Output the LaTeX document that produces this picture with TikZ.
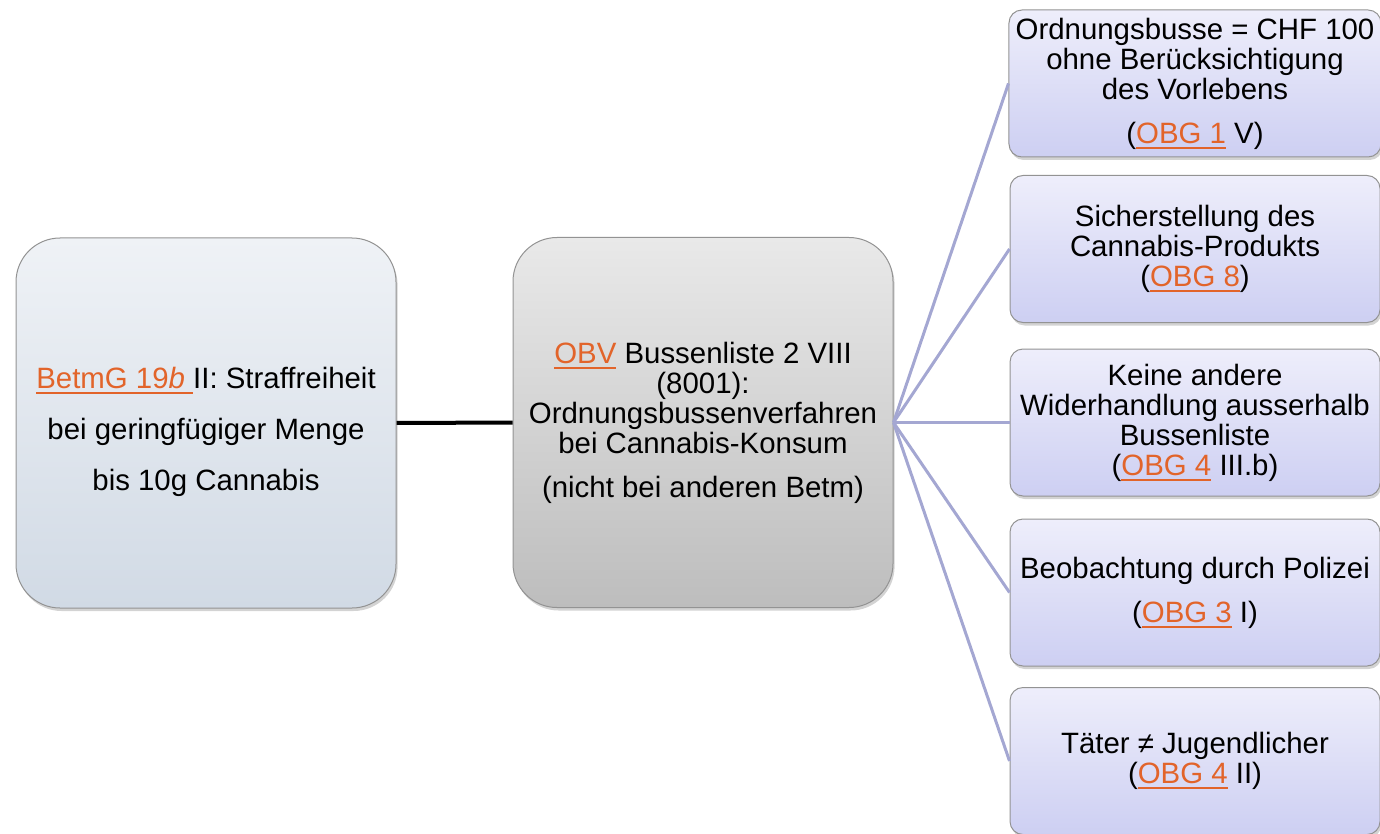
\documentclass[tikz,border=0pt]{standalone}
\usepackage{fontspec}
\setmainfont{Liberation Sans}
\usetikzlibrary{shadows}

\definecolor{linkorange}{HTML}{E2642A}
\definecolor{branchblue}{HTML}{A4A7D2}
\definecolor{betmgtop}{HTML}{EFF2F6}
\definecolor{betmgbottom}{HTML}{D1DAE5}
\definecolor{obvtop}{HTML}{E9E9E9}
\definecolor{obvbottom}{HTML}{BDBDBD}
\definecolor{condtop}{HTML}{EEEEFB}
\definecolor{condbottom}{HTML}{CDCFF2}
\newcommand{\lnk}[1]{\textcolor{linkorange}{\setbox0\hbox{#1}\rlap{\rule[-2.8pt]{\wd0}{0.9pt}}\box0}}

\begin{document}
\begin{tikzpicture}[x=0.5pt,y=-0.5pt,
    every node/.style={align=center,font=\fontsize{14.7}{15}\selectfont},
    bigbox/.style={draw=gray!85,line width=0.5pt,rounded corners=22pt,
      minimum width=190pt,minimum height=185pt,
      drop shadow={shadow xshift=0.8pt,shadow yshift=-1.5pt,opacity=0.35}},
    smallbox/.style={draw=gray!85,line width=0.5pt,rounded corners=6.5pt,
      minimum width=185pt,minimum height=73.5pt,top color=condtop,bottom color=condbottom,
      drop shadow={shadow xshift=0.8pt,shadow yshift=-1.5pt,opacity=0.35}},
    branch/.style={draw=branchblue,line width=1.5pt}]
  \useasboundingbox (0,0) rectangle (1380,834);

  \node[bigbox,top color=betmgtop,bottom color=betmgbottom,
    font=\fontsize{14.7}{25.5}\selectfont] (betmg) at (206,423)
    {\rule{0pt}{19.5pt}\lnk{BetmG 19\textit{b} }II: Straffreiheit\\ bei geringfügiger Menge\\ bis 10g Cannabis};
  \node[bigbox,top color=obvtop,bottom color=obvbottom] (obv) at (703,422.5)
    {\lnk{OBV} Bussenliste 2 VIII\\ (8001):\\ Ordnungsbussenverfahren\\ bei Cannabis-Konsum\\[7pt] (nicht bei anderen Betm)};

  \node[smallbox] (r1) at (1195,83.5)
    {Ordnungsbusse = CHF 100\\ ohne Berücksichtigung\\ des Vorlebens\\[7pt] (\lnk{OBG 1} V)};
  \node[smallbox] (r2) at (1195,249)
    {Sicherstellung des\\ Cannabis-Produkts\\ (\lnk{OBG 8})};
  \node[smallbox] (r3) at (1195,422.5)
    {Keine andere\\ Widerhandlung ausserhalb\\ Bussenliste\\ (\lnk{OBG 4} III.b)};
  \node[smallbox] (r4) at (1195,592.5)
    {Beobachtung durch Polizei\\[7pt] (\lnk{OBG 3} I)};
  \node[smallbox] (r5) at (1195,761)
    {Täter ≠ Jugendlicher\\ (\lnk{OBG 4} II)};

  \draw[line width=2pt] (betmg) -- (obv);
  \foreach \i in {1,...,5}
    \draw[branch] (obv.east) -- (r\i.west);
\end{tikzpicture}
\end{document}
